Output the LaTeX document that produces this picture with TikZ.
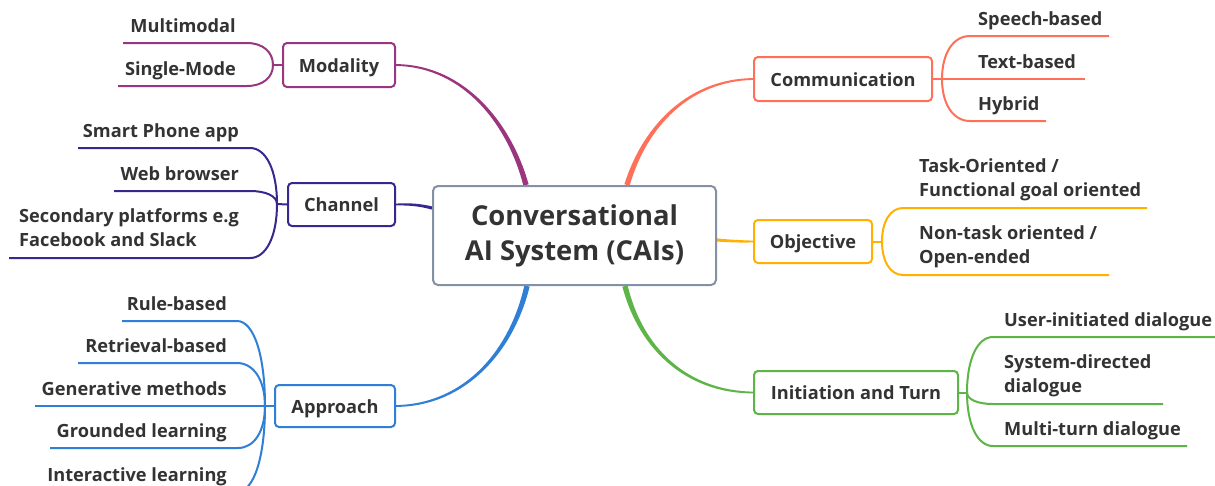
\documentclass[tikz,border=0pt]{standalone}
\usepackage{fontspec}
\setmainfont{Open Sans}
\usetikzlibrary{calc}
\pgfdeclarelayer{bg}
\pgfsetlayers{bg,main}
\definecolor{txt}{HTML}{333333}
\definecolor{cmod}{HTML}{9A3680}
\definecolor{cchan}{HTML}{36288F}
\definecolor{capp}{HTML}{2F7FD6}
\definecolor{ccom}{HTML}{FF7058}
\definecolor{cobj}{HTML}{FFB000}
\definecolor{cini}{HTML}{5CB546}
\definecolor{ccen}{HTML}{8490A4}
\newcommand\leaffont{\fontsize{18.2}{24}\selectfont\bfseries}
% tapered main branch: colour, half-width at start, A, c1, c2, B
\newcommand\mmbranch[6]{%
  \fill[#1] ($(#3)!#2!90:(#4)$) .. controls ($(#4)!0.8*#2!90:(#5)$) and ($(#5)!1.3pt!90:(#6)$) .. ($(#6)!0.9pt!-90:(#5)$)
    -- ($(#6)!0.9pt!90:(#5)$) .. controls ($(#5)!1.3pt!-90:(#6)$) and ($(#4)!0.8*#2!-90:(#5)$) .. ($(#3)!#2!-90:(#4)$) -- cycle;}
% leaf connector: style, fork, start of leaf line, end of leaf line
\newcommand\mmleaf[4]{%
  \draw[#1] (#2) .. controls ($(#2)!0.6!(#2|-#3)$) and ($(#3)!0.6!(#2|-#3)$) .. (#3) -- (#4);}
\tikzset{
  topic/.style={draw=#1, line width=2pt, rounded corners=4pt, fill=white, inner sep=0pt,
    minimum height=43pt, text=txt, font=\leaffont, text height=16pt, text depth=2pt},
  cbox/.style={draw=ccen, line width=2pt, rounded corners=5pt, fill=white, inner sep=0pt,
    minimum width=283pt, minimum height=99pt, align=center, text=txt,
    font=\fontsize{27.4}{35}\selectfont\bfseries},
  leafL/.style={anchor=base east, inner sep=0pt, text=txt, font=\leaffont},
  leafR/.style={anchor=base west, inner sep=0pt, text=txt, font=\leaffont},
  leafML/.style={anchor=south east, inner sep=0pt, align=left, text=txt, font=\leaffont},
  leafMR/.style={anchor=south west, inner sep=0pt, align=left, text=txt, font=\leaffont},
  twig/.style={draw=#1, line width=2pt},
}
\begin{document}
\begin{tikzpicture}[x=1pt,y=-1pt]
\useasboundingbox (0,0) rectangle (1215,485);
\clip (0,0) rectangle (1215,485);
\begin{pgfonlayer}{bg}
\fill[white] (0,0) rectangle (1215,485);
\end{pgfonlayer}

% central topic and main topics
\node[cbox] (cai) at (574.5,235.5) {Conversational\\AI System (CAIs)};
\node[topic=cmod, minimum width=112pt, minimum height=44pt] (mod) at (339,65) {Modality};
\node[topic=cchan, minimum width=107pt] (chan) at (341.5,204.5) {Channel};
\node[topic=capp, minimum width=120pt, minimum height=42pt] (app) at (335,406) {Approach};
\node[topic=ccom, minimum width=178pt, minimum height=44pt] (com) at (843,79) {Communication};
\node[topic=cobj, minimum width=118pt] (obj) at (813,241.5) {Objective};
\node[topic=cini, minimum width=204pt] (ini) at (856,392.5) {Initiation and Turn};

% main branch geometry
\coordinate (modA) at ($(cai.north)+(-48.5,0)$);
\coordinate (modC1) at (510,125); \coordinate (modC2) at (465,66);
\coordinate (comA) at ($(cai.north)+(52.5,0)$);
\coordinate (comC1) at (645,125); \coordinate (comC2) at (690,80);
\coordinate (chanA) at ($(cai.west)+(0,-27.5)$);
\coordinate (chanC1) at (420,205); \coordinate (chanC2) at (410,204);
\coordinate (objA) at ($(cai.east)+(0,4.5)$);
\coordinate (objC1) at (730,241); \coordinate (objC2) at (740,241.5);
\coordinate (appA) at ($(cai.south)+(-47.5,0)$);
\coordinate (appC1) at (512,350); \coordinate (appC2) at (466,405);
\coordinate (iniA) at ($(cai.south)+(50.5,0)$);
\coordinate (iniC1) at (641,350); \coordinate (iniC2) at (688,392);

% forks
\coordinate (modF) at (273,65);
\coordinate (chanF) at (277,204);
\coordinate (appF) at (265,406);
\coordinate (comF) at (942,79);
\coordinate (objF) at (882,241.5);
\coordinate (iniF) at (967,392.5);

% leaf texts
\node[leafL] (mm) at (236,32) {Multimodal};
\node[leafL] (sm) at (236,75) {Single-Mode};
\node[leafL] (sp) at (239,137) {Smart Phone app};
\node[leafL] (wb) at (239,180) {Web browser};
\node[leafML] (sec) at (239,247) {Secondary platforms e.g\\Facebook and Slack};
\node[leafL] (rb) at (227,310) {Rule-based};
\node[leafL] (rt) at (227,352) {Retrieval-based};
\node[leafL] (gm) at (227,395) {Generative methods};
\node[leafL] (gl) at (227,437) {Grounded learning};
\node[leafL] (il) at (227,481) {Interactive learning};
\node[leafR] (spb) at (978,25) {Speech-based};
\node[leafR] (tb) at (978,68) {Text-based};
\node[leafR] (hy) at (978,110) {Hybrid};
\node[leafMR] (to) at (919,201.4) {Task-Oriented /\\Functional goal oriented};
\node[leafMR] (nt) at (919,268.4) {Non-task oriented /\\Open-ended};
\node[leafR] (ui) at (1004,326) {User-initiated dialogue};
\node[leafMR] (sd) at (1004,397.4) {System-directed\\dialogue};
\node[leafR] (mt) at (1004,435) {Multi-turn dialogue};

% leaf line end points
\coordinate (mmS) at (247,43);  \coordinate (mmE) at (123,43);
\coordinate (smS) at (247,86);  \coordinate (smE) at (118,86);
\coordinate (spS) at (250,148); \coordinate (spE) at (78,148);
\coordinate (wbS) at (250,191); \coordinate (wbE) at (114,191);
\coordinate (secS) at (250,258); \coordinate (secE) at (9,258);
\coordinate (rbS) at (237,321); \coordinate (rbE) at (122,321);
\coordinate (rtS) at (237,363); \coordinate (rtE) at (78,363);
\coordinate (gmS) at (237,406); \coordinate (gmE) at (35,406);
\coordinate (glS) at (238,448); \coordinate (glE) at (50,448);
\coordinate (ilS) at (237,492); \coordinate (ilE) at (48,492);
\coordinate (spbS) at (970,36); \coordinate (spbE) at (1109,36);
\coordinate (tbS) at (970,79);  \coordinate (tbE) at (1085,79);
\coordinate (hyS) at (970,121); \coordinate (hyE) at (1046,121);
\coordinate (toS) at (903,208); \coordinate (toE) at (1147,208);
\coordinate (ntS) at (903,275); \coordinate (ntE) at (1109,275);
\coordinate (uiS) at (993,337); \coordinate (uiE) at (1222,337);
\coordinate (sdS) at (993,404); \coordinate (sdE) at (1163,404);
\coordinate (mtS) at (993,446); \coordinate (mtE) at (1187,446);

\begin{pgfonlayer}{bg}
% main branches
\mmbranch{cmod}{2.7pt}{modA}{modC1}{modC2}{mod.east}
\mmbranch{ccom}{2.7pt}{comA}{comC1}{comC2}{com.west}
\mmbranch{cchan}{1.6pt}{chanA}{chanC1}{chanC2}{chan.east}
\mmbranch{cobj}{1.6pt}{objA}{objC1}{objC2}{obj.west}
\mmbranch{capp}{2.7pt}{appA}{appC1}{appC2}{app.east}
\mmbranch{cini}{2.7pt}{iniA}{iniC1}{iniC2}{ini.west}
% stubs from topics to forks
\draw[twig=cmod] (mod.west) -- (modF);
\draw[twig=cchan] (chan.west) -- (chanF);
\draw[twig=capp] (app.west) -- (appF);
\draw[twig=ccom] (com.east) -- (comF);
\draw[twig=cobj] (obj.east) -- (objF);
\draw[twig=cini] (ini.east) -- (iniF);
% leaves
\mmleaf{twig=cmod}{modF}{mmS}{mmE}
\mmleaf{twig=cmod}{modF}{smS}{smE}
\mmleaf{twig=cchan}{chanF}{spS}{spE}
\mmleaf{twig=cchan}{chanF}{wbS}{wbE}
\mmleaf{twig=cchan}{chanF}{secS}{secE}
\mmleaf{twig=capp}{appF}{rbS}{rbE}
\mmleaf{twig=capp}{appF}{rtS}{rtE}
\mmleaf{twig=capp}{appF}{gmS}{gmE}
\mmleaf{twig=capp}{appF}{glS}{glE}
\mmleaf{twig=capp}{appF}{ilS}{ilE}
\mmleaf{twig=ccom}{comF}{spbS}{spbE}
\mmleaf{twig=ccom}{comF}{tbS}{tbE}
\mmleaf{twig=ccom}{comF}{hyS}{hyE}
\mmleaf{twig=cobj}{objF}{toS}{toE}
\mmleaf{twig=cobj}{objF}{ntS}{ntE}
\mmleaf{twig=cini}{iniF}{uiS}{uiE}
\mmleaf{twig=cini}{iniF}{sdS}{sdE}
\mmleaf{twig=cini}{iniF}{mtS}{mtE}
\end{pgfonlayer}
\end{tikzpicture}
\end{document}
